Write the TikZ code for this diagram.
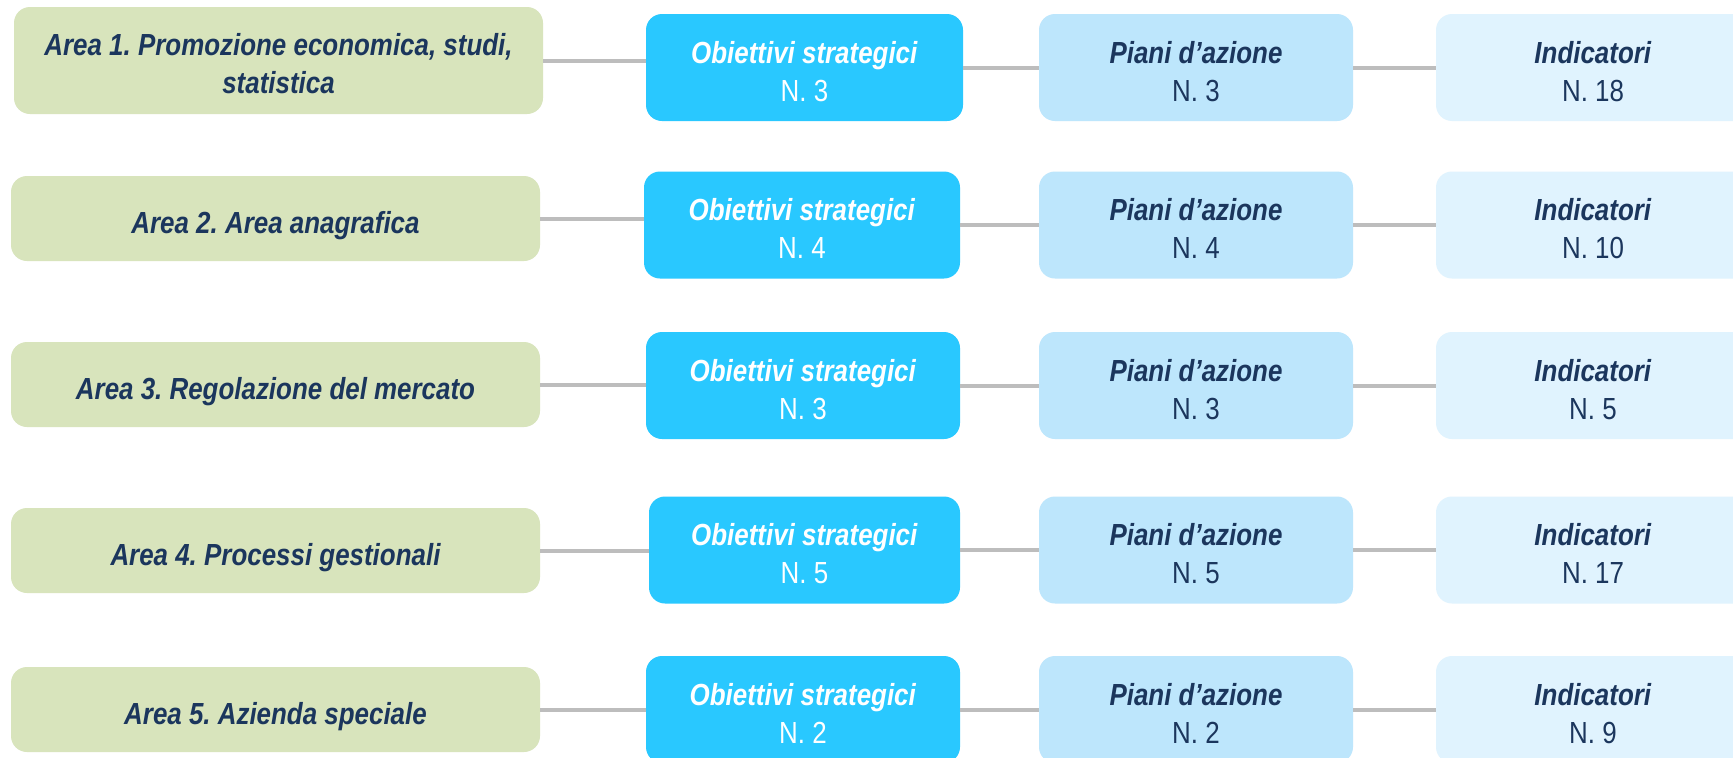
\documentclass[tikz,border=0pt]{standalone}
\usepackage{fontspec}
\setmainfont{Liberation Sans}[FakeStretch=0.85]
\frenchspacing
\definecolor{areafill}{HTML}{D8E4BC}
\definecolor{objfill}{HTML}{29C8FF}
\definecolor{pianifill}{HTML}{BDE6FC}
\definecolor{indfill}{HTML}{E0F3FE}
\definecolor{navy}{HTML}{1B365D}
\definecolor{linkgray}{HTML}{BDBDBD}
\tikzset{
  box/.style={rectangle, rounded corners=16pt, inner sep=0pt, align=center,
    text depth=0pt, font=\fontsize{30.5}{38}\selectfont},
  areabox/.style={box, fill=areafill, text=navy, minimum width=529pt, minimum height=85pt,
    font=\fontsize{30.5}{38}\selectfont\bfseries\itshape},
  oneline/.style={text height=29pt, text depth=0pt},
  objbox/.style={box, fill=objfill, text=white, minimum height=107pt},
  pianibox/.style={box, fill=pianifill, text=navy, minimum width=314pt, minimum height=107pt},
  indbox/.style={box, fill=indfill, text=navy, minimum width=314pt, minimum height=107pt},
  link/.style={draw=linkgray, line width=4pt}
}
\newcommand{\ttl}[1]{\rule{0pt}{29pt}\textbf{\textit{#1}}}
\begin{document}
\begin{tikzpicture}[x=1pt, y=-1pt]
\useasboundingbox (0,0) rectangle (1733,758);
\fill[white] (0,0) rectangle (1733,758);
\clip (0,0) rectangle (1733,758);
% Row 1
\node[areabox, minimum height=107pt] (a1) at (278.5,60.5) {\rule{0pt}{28pt}Area 1. Promozione economica, studi,\\statistica};
\node[objbox, minimum width=317pt] (o1) at (804.5,67.5) {\ttl{Obiettivi strategici}\\N. 3};
\node[pianibox] (p1) at (1196,67.5) {\ttl{Piani d’azione}\\N. 3};
\node[indbox] (i1) at (1593,67.5) {\ttl{Indicatori}\\N. 18};
% Row 2
\node[areabox, oneline] (a2) at (275.5,218.5) {Area 2. Area anagrafica};
\node[objbox, minimum width=316pt] (o2) at (802,225) {\ttl{Obiettivi strategici}\\N. 4};
\node[pianibox] (p2) at (1196,225) {\ttl{Piani d’azione}\\N. 4};
\node[indbox] (i2) at (1593,225) {\ttl{Indicatori}\\N. 10};
% Row 3
\node[areabox, oneline] (a3) at (275.5,384.5) {Area 3. Regolazione del mercato};
\node[objbox, minimum width=314pt] (o3) at (803,385.5) {\ttl{Obiettivi strategici}\\N. 3};
\node[pianibox] (p3) at (1196,385.5) {\ttl{Piani d’azione}\\N. 3};
\node[indbox] (i3) at (1593,385.5) {\ttl{Indicatori}\\N. 5};
% Row 4
\node[areabox, oneline] (a4) at (275.5,550.5) {Area 4. Processi gestionali};
\node[objbox, minimum width=311pt] (o4) at (804.5,550) {\ttl{Obiettivi strategici}\\N. 5};
\node[pianibox] (p4) at (1196,550) {\ttl{Piani d’azione}\\N. 5};
\node[indbox] (i4) at (1593,550) {\ttl{Indicatori}\\N. 17};
% Row 5
\node[areabox, oneline] (a5) at (275.5,709.5) {Area 5. Azienda speciale};
\node[objbox, minimum width=314pt] (o5) at (803,709.5) {\ttl{Obiettivi strategici}\\N. 2};
\node[pianibox] (p5) at (1196,709.5) {\ttl{Piani d’azione}\\N. 2};
\node[indbox] (i5) at (1593,709.5) {\ttl{Indicatori}\\N. 9};
% Connectors
\foreach \r in {1,...,5}{
  \draw[link] (a\r.east) -- (a\r.east -| o\r.west);
  \draw[link] (o\r.east) -- (o\r.east -| p\r.west);
  \draw[link] (p\r.east) -- (p\r.east -| i\r.west);
}
\end{tikzpicture}
\end{document}
